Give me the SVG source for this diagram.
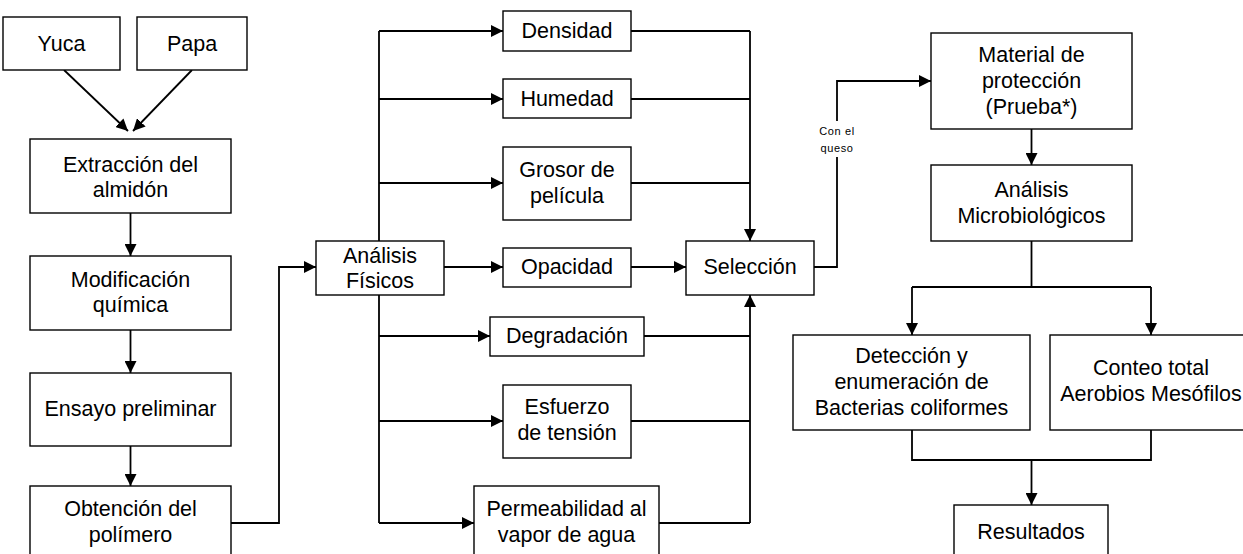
<svg xmlns="http://www.w3.org/2000/svg" width="1243" height="554" viewBox="0 0 1243 554">
  <style>
    .box { fill: #ffffff; stroke: #000000; stroke-width: 1.4; }
    .lbl { font-family: "Liberation Sans", Arial, sans-serif; font-size: 21.5px; fill: #000000; text-anchor: middle; dominant-baseline: central; }
    .small { font-family: "Liberation Sans", Arial, sans-serif; font-size: 11px; letter-spacing: 0.6px; fill: #000000; text-anchor: middle; dominant-baseline: central; }
    .wire { fill: none; stroke: #000000; stroke-width: 1.8; }
    .arr { marker-end: url(#head); }
  </style>
  <defs>
    <marker id="head" markerUnits="userSpaceOnUse" markerWidth="13" markerHeight="12" refX="12" refY="6" orient="auto">
      <path d="M0,0 L12,6 L0,12 z" fill="#000000"/>
    </marker>
  </defs>
  <rect width="1243" height="554" fill="#ffffff"/>

  <!-- connectors -->
  <g id="connectors">
    <path class="wire arr" d="M64,70 L128,131"/>
    <path class="wire arr" d="M192,70 L133,131"/>
    <path class="wire arr" d="M130.5,213 L130.5,256"/>
    <path class="wire arr" d="M130.5,330 L130.5,373"/>
    <path class="wire arr" d="M130.5,446 L130.5,486"/>
    <path class="wire arr" d="M231,523 L279,523 L279,267 L316,267"/>

    <!-- fan-out from Análisis Físicos -->
    <path class="wire" d="M379,241 L379,31"/>
    <path class="wire" d="M379,295 L379,523"/>
    <path class="wire arr" d="M379,31 L503,31"/>
    <path class="wire arr" d="M379,99 L503,99"/>
    <path class="wire arr" d="M379,183 L503,183"/>
    <path class="wire arr" d="M444,267 L503,267"/>
    <path class="wire arr" d="M379,336 L490,336"/>
    <path class="wire arr" d="M379,421 L503,421"/>
    <path class="wire arr" d="M379,523 L474,523"/>

    <!-- fan-in to Selección -->
    <path class="wire" d="M631,31 L750,31"/>
    <path class="wire" d="M631,99 L750,99"/>
    <path class="wire" d="M631,183 L750,183"/>
    <path class="wire arr" d="M750,31 L750,241"/>
    <path class="wire arr" d="M631,267 L686,267"/>
    <path class="wire" d="M644,336 L750,336"/>
    <path class="wire" d="M631,421 L750,421"/>
    <path class="wire" d="M659,523 L750,523"/>
    <path class="wire arr" d="M750,523 L750,295"/>

    <!-- Selección to material -->
    <path class="wire arr" d="M814,267 L837,267 L837,81 L931,81"/>
    <rect x="817" y="121" width="40" height="36" fill="#ffffff"/>
    <text class="small" x="837" y="131">Con el</text>
    <text class="small" x="837" y="148">queso</text>

    <path class="wire arr" d="M1031.5,129 L1031.5,165"/>
    <path class="wire" d="M1031.5,241 L1031.5,287"/>
    <path class="wire" d="M912,287 L1151,287"/>
    <path class="wire arr" d="M912,287 L912,335"/>
    <path class="wire arr" d="M1151,287 L1151,335"/>
    <path class="wire" d="M912,430 L912,460 L1151,460 L1151,430"/>
    <path class="wire arr" d="M1031.5,460 L1031.5,505"/>
  </g>

  <!-- left column -->
  <g id="yuca">
    <rect class="box" x="3" y="17" width="117" height="53"/>
    <text class="lbl" x="61.5" y="43.5">Yuca</text>
  </g>
  <g id="papa">
    <rect class="box" x="137" y="17" width="110" height="53"/>
    <text class="lbl" x="192" y="43.5">Papa</text>
  </g>
  <g id="extraccion">
    <rect class="box" x="30" y="139" width="201" height="74"/>
    <text class="lbl" x="130.5" y="165">Extracción del</text>
    <text class="lbl" x="130.5" y="190">almidón</text>
  </g>
  <g id="modificacion">
    <rect class="box" x="30" y="256" width="201" height="74"/>
    <text class="lbl" x="130.5" y="280">Modificación</text>
    <text class="lbl" x="130.5" y="305">química</text>
  </g>
  <g id="ensayo">
    <rect class="box" x="30" y="373" width="201" height="73"/>
    <text class="lbl" x="130.5" y="409">Ensayo preliminar</text>
  </g>
  <g id="obtencion">
    <rect class="box" x="30" y="486" width="201" height="74"/>
    <text class="lbl" x="130.5" y="509">Obtención del</text>
    <text class="lbl" x="130.5" y="535">polímero</text>
  </g>

  <!-- physical analyses -->
  <g id="analisis-fisicos">
    <rect class="box" x="316" y="241" width="128" height="54"/>
    <text class="lbl" x="380" y="256">Análisis</text>
    <text class="lbl" x="380" y="281">Físicos</text>
  </g>
  <g id="densidad">
    <rect class="box" x="503" y="11" width="128" height="40"/>
    <text class="lbl" x="567" y="31">Densidad</text>
  </g>
  <g id="humedad">
    <rect class="box" x="503" y="79" width="128" height="39"/>
    <text class="lbl" x="567" y="99">Humedad</text>
  </g>
  <g id="grosor">
    <rect class="box" x="503" y="147" width="128" height="73"/>
    <text class="lbl" x="567" y="170">Grosor de</text>
    <text class="lbl" x="567" y="196">película</text>
  </g>
  <g id="opacidad">
    <rect class="box" x="503" y="248" width="128" height="39"/>
    <text class="lbl" x="567" y="267">Opacidad</text>
  </g>
  <g id="degradacion">
    <rect class="box" x="490" y="317" width="154" height="39"/>
    <text class="lbl" x="567" y="336">Degradación</text>
  </g>
  <g id="esfuerzo">
    <rect class="box" x="503" y="385" width="128" height="73"/>
    <text class="lbl" x="567" y="407">Esfuerzo</text>
    <text class="lbl" x="567" y="433">de tensión</text>
  </g>
  <g id="permeabilidad">
    <rect class="box" x="474" y="486" width="185" height="74"/>
    <text class="lbl" x="566.5" y="509">Permeabilidad al</text>
    <text class="lbl" x="566.5" y="535">vapor de agua</text>
  </g>
  <g id="seleccion">
    <rect class="box" x="686" y="241" width="128" height="54"/>
    <text class="lbl" x="750" y="267">Selección</text>
  </g>

  <!-- microbiological stage -->
  <g id="material">
    <rect class="box" x="931" y="33" width="201" height="96"/>
    <text class="lbl" x="1031.5" y="55">Material de</text>
    <text class="lbl" x="1031.5" y="81">protección</text>
    <text class="lbl" x="1031.5" y="107">(Prueba*)</text>
  </g>
  <g id="analisis-micro">
    <rect class="box" x="931" y="165" width="201" height="76"/>
    <text class="lbl" x="1031.5" y="190">Análisis</text>
    <text class="lbl" x="1031.5" y="216">Microbiológicos</text>
  </g>
  <g id="deteccion">
    <rect class="box" x="793" y="335" width="237" height="95"/>
    <text class="lbl" x="911.5" y="356">Detección y</text>
    <text class="lbl" x="911.5" y="382">enumeración de</text>
    <text class="lbl" x="911.5" y="408">Bacterias coliformes</text>
  </g>
  <g id="conteo">
    <rect class="box" x="1050" y="335" width="203" height="95"/>
    <text class="lbl" x="1151" y="368">Conteo total</text>
    <text class="lbl" x="1151" y="394">Aerobios Mesófilos</text>
  </g>
  <g id="resultados">
    <rect class="box" x="954" y="505" width="154" height="55"/>
    <text class="lbl" x="1031" y="532">Resultados</text>
  </g>
</svg>
